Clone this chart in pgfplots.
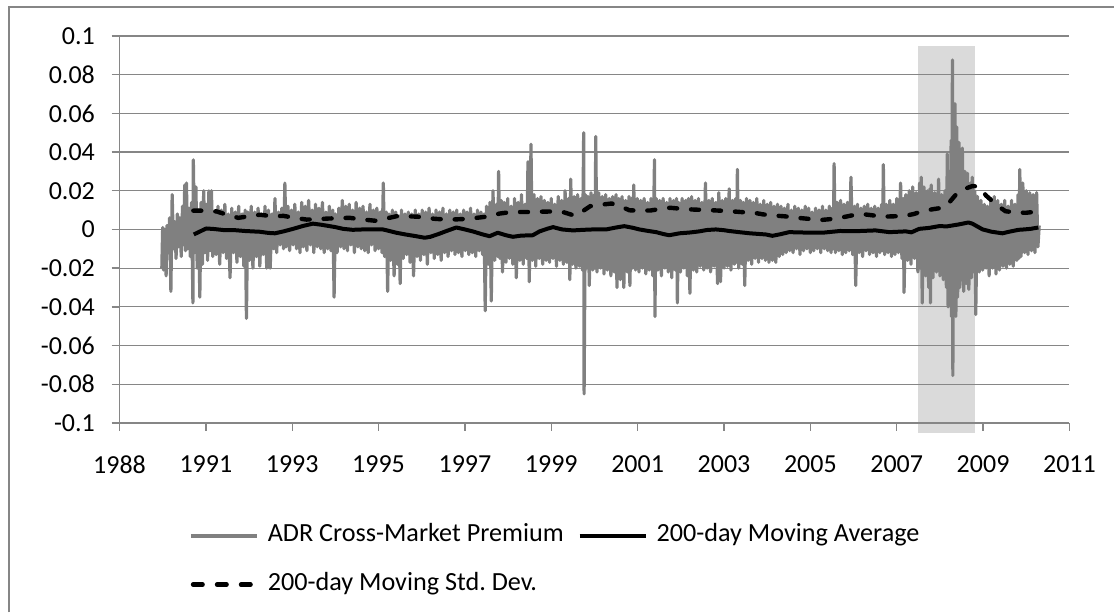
\documentclass[border=0pt]{standalone}
\usepackage{fontspec}
\setmainfont{Carlito}
\usepackage{pgfplots}
\pgfplotsset{compat=1.18}
\definecolor{gridgray}{HTML}{868686}
\definecolor{seriesgray}{HTML}{808080}
\begin{document}
\begin{tikzpicture}
\path (0,0) rectangle (557.5pt,-306.5pt);
\draw[gridgray, line width=1pt] (4.5pt,-306.5pt) -- (4.5pt,-3.5pt) -- (557.5pt,-3.5pt);
\begin{axis}[
  set layers,
  scale only axis, width=475.4pt, height=193.65pt,
  at={(59.8pt,-211.65pt)}, anchor=south west,
  xmin=1989, xmax=2011, ymin=-0.1, ymax=0.1,
  axis x line*=bottom, axis y line*=left,
  axis line style={gridgray, line width=0.7pt, -},
  xtick={1989,1991,1993,1995,1997,1999,2001,2003,2005,2007,2009,2011},
  xticklabels={1988,1991,1993,1995,1997,1999,2001,2003,2005,2007,2009,2011},
  ytick={-0.1,-0.08,-0.06,-0.04,-0.02,0,0.02,0.04,0.06,0.08,0.1},
  yticklabels={-0.1,-0.08,-0.06,-0.04,-0.02,0,0.02,0.04,0.06,0.08,0.1},
  tick align=outside, major tick length=4pt,
  tick style={gridgray, line width=0.7pt},
  ymajorgrids, grid style={gridgray, line width=0.6pt},
  ticklabel style={font=\fontsize{13}{15}\selectfont},
  yticklabel style={xshift=-4.8pt},
  xticklabel style={yshift=-8.8pt},
  clip=false,
  legend columns=2,
  legend cell align=left,
  legend image code/.code={\draw[#1] (0pt,0pt) -- (33pt,0pt);},
  legend style={at={(0.073,-0.25)}, anchor=north west, draw=none, fill=none,
    font=\fontsize{13.1}{15}\selectfont, inner sep=0pt, outer sep=0pt,
    nodes={inner sep=2pt, text height=9pt, text depth=3pt},
    row sep=8.5pt,
    /tikz/every odd column/.append style={column sep=2.5pt},
    /tikz/every even column/.append style={column sep=5pt}},
]
\addplot[draw=none, fill=gray!29, on layer=axis background, forget plot] coordinates {(2007.49,-0.105) (2008.82,-0.105) (2008.82,0.095) (2007.49,0.095)} -- cycle;
\addplot[seriesgray, line width=1.6pt, line join=round,
  legend image code/.code={\draw[seriesgray, line width=2pt] (0pt,0pt) -- (33pt,0pt);}] coordinates {
(1989.98,-0.020)(1990.00,0.001)(1990.02,-0.021)(1990.05,0.000)(1990.08,-0.024)(1990.10,0.002)(1990.13,-0.012)(1990.16,0.006)(1990.19,-0.032)(1990.22,0.018)(1990.25,-0.010)(1990.28,0.004)(1990.31,-0.015)(1990.34,0.008)(1990.37,-0.009)(1990.40,0.006)(1990.43,-0.014)(1990.46,0.012)(1990.49,-0.008)(1990.51,0.023)(1990.53,-0.011)(1990.55,0.024)(1990.58,-0.010)(1990.61,0.011)(1990.64,-0.014)(1990.67,0.014)(1990.70,-0.038)(1990.71,0.036)(1990.74,-0.012)(1990.77,0.022)(1990.80,-0.020)(1990.83,0.010)(1990.86,-0.035)(1990.89,0.014)(1990.92,-0.018)(1990.95,0.020)(1990.98,-0.012)(1991.01,0.013)(1991.04,-0.016)(1991.07,0.020)(1991.10,-0.011)(1991.13,0.020)(1991.16,-0.014)(1991.20,0.009)(1991.24,-0.013)(1991.28,0.012)(1991.32,-0.018)(1991.36,0.010)(1991.40,-0.012)(1991.44,0.013)(1991.48,-0.015)(1991.52,0.008)(1991.56,-0.025)(1991.60,0.011)(1991.64,-0.012)(1991.68,0.009)(1991.72,-0.017)(1991.76,0.012)(1991.80,-0.014)(1991.84,0.008)(1991.88,-0.019)(1991.91,0.010)(1991.94,-0.046)(1991.97,0.009)
(1992.01,-0.016)(1992.05,0.012)(1992.09,-0.020)(1992.13,0.009)(1992.17,-0.014)(1992.21,0.011)(1992.25,-0.019)(1992.29,0.008)(1992.33,-0.013)(1992.37,0.012)(1992.41,-0.020)(1992.45,0.010)(1992.49,-0.020)(1992.53,0.008)(1992.57,-0.010)(1992.60,0.016)(1992.64,-0.012)(1992.68,0.009)(1992.72,-0.008)(1992.76,0.011)(1992.80,-0.010)(1992.83,0.024)(1992.86,-0.009)(1992.90,0.012)(1992.94,-0.011)(1992.98,0.010)(1993.02,-0.008)(1993.06,0.013)(1993.10,-0.010)(1993.14,0.009)(1993.18,-0.012)(1993.22,0.014)(1993.26,-0.009)(1993.30,0.012)(1993.34,-0.011)(1993.38,0.015)(1993.42,-0.008)(1993.46,0.010)(1993.50,-0.012)(1993.54,0.013)(1993.58,-0.009)(1993.62,0.011)(1993.66,-0.010)(1993.70,0.014)(1993.74,-0.012)(1993.78,0.009)(1993.82,-0.010)(1993.86,0.012)(1993.90,-0.011)(1993.94,0.010)(1993.97,-0.035)
(1994.00,0.008)(1994.04,-0.012)(1994.08,0.011)(1994.12,-0.009)(1994.16,0.015)(1994.20,-0.010)(1994.24,0.012)(1994.28,-0.011)(1994.32,0.013)(1994.36,-0.008)(1994.40,0.010)(1994.44,-0.012)(1994.48,0.014)(1994.52,-0.009)(1994.56,0.011)(1994.60,-0.010)(1994.64,0.012)(1994.68,-0.011)(1994.72,0.009)(1994.76,-0.012)(1994.80,0.013)(1994.84,-0.008)(1994.88,0.010)(1994.92,-0.011)(1994.96,0.011)(1995.00,-0.010)(1995.04,0.009)(1995.08,-0.012)(1995.11,0.024)(1995.14,-0.014)(1995.18,0.009)(1995.21,-0.032)(1995.24,0.008)(1995.28,-0.016)(1995.32,0.010)(1995.36,-0.024)(1995.40,0.009)(1995.44,-0.018)(1995.47,0.007)(1995.50,-0.028)(1995.53,0.010)(1995.57,-0.015)(1995.61,0.008)(1995.65,-0.013)(1995.69,0.009)(1995.73,-0.017)(1995.77,0.008)(1995.81,-0.024)(1995.85,0.010)(1995.89,-0.014)(1995.93,0.008)(1995.97,-0.016)
(1996.01,0.010)(1996.05,-0.013)(1996.09,0.009)(1996.13,-0.018)(1996.17,0.011)(1996.21,-0.012)(1996.25,0.008)(1996.29,-0.015)(1996.33,0.010)(1996.37,-0.013)(1996.41,0.009)(1996.45,-0.016)(1996.49,0.011)(1996.53,-0.012)(1996.57,0.008)(1996.61,-0.014)(1996.65,0.010)(1996.69,-0.011)(1996.73,0.009)(1996.77,-0.013)(1996.81,0.010)(1996.85,-0.012)(1996.89,0.008)(1996.93,-0.014)(1996.97,0.010)(1997.01,-0.011)(1997.05,0.009)(1997.09,-0.013)(1997.13,0.011)(1997.17,-0.012)(1997.21,0.008)(1997.25,-0.014)(1997.29,0.010)(1997.33,-0.011)(1997.37,0.009)(1997.41,-0.013)(1997.44,0.008)(1997.47,-0.042)(1997.50,0.012)(1997.54,-0.018)(1997.58,0.014)(1997.61,-0.037)(1997.65,0.020)(1997.69,-0.016)(1997.73,0.013)(1997.76,-0.014)(1997.78,0.030)(1997.81,-0.015)(1997.84,0.015)(1997.87,-0.022)(1997.91,0.014)(1997.95,-0.017)(1997.99,0.016)
(1998.03,-0.015)(1998.07,0.012)(1998.11,-0.018)(1998.15,0.016)(1998.19,-0.025)(1998.23,0.014)(1998.27,-0.016)(1998.31,0.018)(1998.35,-0.018)(1998.39,0.013)(1998.43,-0.015)(1998.46,0.035)(1998.49,-0.027)(1998.53,0.044)(1998.56,-0.016)(1998.60,0.018)(1998.64,-0.019)(1998.68,0.016)(1998.72,-0.015)(1998.76,0.017)(1998.80,-0.018)(1998.84,0.015)(1998.88,-0.016)(1998.92,0.014)(1998.96,-0.017)(1999.00,0.016)(1999.04,-0.015)(1999.08,0.013)(1999.12,-0.019)(1999.16,0.017)(1999.20,-0.016)(1999.24,0.015)(1999.28,-0.018)(1999.32,0.020)(1999.36,-0.017)(1999.40,0.016)(1999.43,-0.026)(1999.45,0.026)(1999.49,-0.018)(1999.53,0.017)(1999.57,-0.020)(1999.61,0.018)(1999.65,-0.019)(1999.69,0.016)(1999.72,-0.021)(1999.75,0.050)(1999.76,-0.085)(1999.79,0.018)(1999.82,-0.020)(1999.85,0.017)(1999.88,-0.029)(1999.92,0.019)(1999.96,-0.021)
(2000.00,0.018)(2000.01,-0.020)(2000.03,0.048)(2000.06,-0.022)(2000.10,0.019)(2000.14,-0.020)(2000.18,0.017)(2000.22,-0.023)(2000.26,0.018)(2000.30,-0.021)(2000.34,0.016)(2000.38,-0.024)(2000.42,0.017)(2000.46,-0.022)(2000.50,0.018)(2000.52,-0.030)(2000.56,0.016)(2000.60,-0.026)(2000.64,0.017)(2000.68,-0.030)(2000.72,0.015)(2000.76,-0.022)(2000.80,0.017)(2000.82,-0.029)(2000.86,0.016)(2000.88,-0.020)(2000.91,0.023)(2000.95,-0.021)(2000.99,0.016)(2001.03,-0.022)(2001.07,0.015)(2001.11,-0.020)(2001.15,0.016)(2001.19,-0.023)(2001.23,0.014)(2001.27,-0.021)(2001.31,0.016)(2001.35,-0.024)(2001.39,0.036)(2001.40,-0.045)(2001.43,0.016)(2001.47,-0.021)(2001.51,0.015)(2001.55,-0.024)(2001.59,0.016)(2001.63,-0.020)(2001.67,0.014)(2001.71,-0.022)(2001.75,0.016)(2001.79,-0.025)(2001.83,0.015)(2001.87,-0.021)(2001.90,0.016)(2001.92,-0.038)(2001.95,0.014)(2001.99,-0.022)
(2002.03,0.016)(2002.07,-0.020)(2002.11,0.015)(2002.15,-0.024)(2002.18,0.016)(2002.21,-0.033)(2002.25,0.017)(2002.29,-0.021)(2002.33,0.015)(2002.37,-0.022)(2002.41,0.016)(2002.45,-0.019)(2002.49,0.014)(2002.53,-0.021)(2002.57,0.024)(2002.61,-0.020)(2002.65,0.015)(2002.69,-0.022)(2002.73,0.016)(2002.77,-0.019)(2002.81,0.014)(2002.85,-0.028)(2002.88,0.019)(2002.92,-0.027)(2002.96,0.015)(2003.00,-0.020)(2003.04,0.016)(2003.08,-0.019)(2003.12,0.021)(2003.16,-0.021)(2003.20,0.015)(2003.24,-0.018)(2003.27,0.016)(2003.29,-0.017)(2003.31,0.031)(2003.34,-0.020)(2003.38,0.015)(2003.42,-0.018)(2003.45,0.014)(2003.48,-0.029)(2003.52,0.016)(2003.56,-0.016)(2003.60,0.015)(2003.64,-0.018)(2003.68,0.014)(2003.72,-0.015)(2003.76,0.016)(2003.80,-0.017)(2003.84,0.013)(2003.88,-0.015)(2003.92,0.015)(2003.96,-0.016)
(2004.00,0.013)(2004.04,-0.017)(2004.08,0.014)(2004.12,-0.016)(2004.16,0.012)(2004.20,-0.017)(2004.24,0.013)(2004.28,-0.014)(2004.32,0.012)(2004.36,-0.013)(2004.40,0.011)(2004.44,-0.012)(2004.48,0.013)(2004.52,-0.011)(2004.56,0.010)(2004.60,-0.012)(2004.64,0.012)(2004.68,-0.010)(2004.72,0.011)(2004.76,-0.013)(2004.80,0.010)(2004.84,-0.011)(2004.88,0.012)(2004.92,-0.010)(2004.96,0.011)(2005.00,-0.012)(2005.04,0.009)(2005.08,-0.011)(2005.12,0.011)(2005.16,-0.010)(2005.20,0.010)(2005.24,-0.012)(2005.28,0.012)(2005.32,-0.010)(2005.36,0.010)(2005.40,-0.011)(2005.44,0.012)(2005.48,-0.012)(2005.51,0.011)(2005.53,-0.010)(2005.55,0.034)(2005.58,-0.012)(2005.62,0.014)(2005.66,-0.011)(2005.70,0.015)(2005.74,-0.013)(2005.78,0.013)(2005.82,-0.012)(2005.86,0.014)(2005.90,-0.011)(2005.94,0.027)(2005.98,-0.013)
(2006.02,0.012)(2006.05,-0.029)(2006.09,0.013)(2006.13,-0.012)(2006.17,0.011)(2006.21,-0.014)(2006.25,0.012)(2006.29,-0.011)(2006.33,0.013)(2006.37,-0.013)(2006.41,0.011)(2006.45,-0.012)(2006.49,0.012)(2006.53,-0.014)(2006.57,0.011)(2006.61,-0.012)(2006.65,0.013)(2006.67,-0.011)(2006.69,0.0335)(2006.72,-0.013)(2006.76,0.013)(2006.80,-0.012)(2006.84,0.015)(2006.88,-0.014)(2006.92,0.013)(2006.96,-0.013)(2007.00,0.016)(2007.04,-0.012)(2007.09,0.024)(2007.12,-0.015)(2007.15,0.016)(2007.17,-0.0326)(2007.21,0.018)(2007.25,-0.016)(2007.29,0.020)(2007.33,-0.018)(2007.37,0.022)(2007.41,-0.015)(2007.45,0.019)(2007.49,-0.022)(2007.53,0.024)(2007.55,-0.020)(2007.57,0.027)(2007.59,-0.038)(2007.63,0.022)(2007.67,-0.024)(2007.71,0.020)(2007.74,-0.030)(2007.77,0.021)(2007.78,-0.038)(2007.80,0.023)(2007.84,-0.025)(2007.88,0.019)(2007.92,-0.022)(2007.97,0.026)
(2008.00,-0.024)(2008.04,0.018)(2008.08,-0.026)(2008.12,0.020)(2008.15,-0.030)(2008.17,0.039)(2008.19,-0.040)(2008.22,0.030)(2008.24,-0.035)(2008.26,0.046)(2008.27,-0.045)(2008.29,0.0876)(2008.30,-0.0755)(2008.32,0.055)(2008.34,-0.040)(2008.35,0.065)(2008.37,-0.045)(2008.39,0.053)(2008.41,-0.035)(2008.44,0.045)(2008.46,-0.030)(2008.48,0.040)(2008.50,-0.026)(2008.52,0.042)(2008.55,-0.032)(2008.58,0.030)(2008.61,-0.028)(2008.64,0.029)(2008.67,-0.031)(2008.71,0.024)(2008.73,-0.025)(2008.75,0.027)(2008.79,-0.022)(2008.81,0.020)(2008.83,-0.044)(2008.87,0.017)(2008.91,-0.022)(2008.95,0.015)(2008.99,-0.021)(2009.03,0.013)(2009.07,-0.020)(2009.10,0.012)(2009.14,-0.024)(2009.18,0.016)(2009.22,-0.020)(2009.26,0.017)(2009.30,-0.023)(2009.34,0.015)(2009.38,-0.021)(2009.42,0.013)(2009.46,-0.019)(2009.50,0.015)(2009.54,-0.020)(2009.58,0.012)(2009.62,-0.018)(2009.66,0.015)(2009.70,-0.019)(2009.74,0.013)(2009.78,-0.016)(2009.81,0.018)(2009.83,-0.015)(2009.85,0.031)(2009.88,-0.014)(2009.92,0.024)(2009.96,-0.012)
(2010.00,0.020)(2010.04,-0.013)(2010.08,0.019)(2010.12,-0.011)(2010.16,0.018)(2010.20,-0.012)(2010.24,0.019)(2010.27,-0.009)(2010.30,0.002)
};
\addlegendentry{ADR Cross-Market Premium}
\addplot[black, line width=2pt, line join=round] coordinates {
(1990.72,-0.0026)(1990.85,-0.0012)(1991.01,0.0005)(1991.2,0.0002)(1991.4,-0.0003)(1991.63,-0.0003)(1991.9,-0.0008)(1992.25,-0.0012)(1992.45,-0.0018)(1992.6,-0.002)(1992.8,-0.001)(1993.02,0.0003)(1993.25,0.0018)(1993.48,0.003)(1993.65,0.0025)(1993.79,0.002)(1994.0,0.0012)(1994.18,0.0003)(1994.4,-0.0002)(1994.64,0)(1994.9,0.0)(1995.1,0)(1995.25,-0.0008)(1995.41,-0.0017)(1995.6,-0.0025)(1995.87,-0.0035)(1996.07,-0.0043)(1996.2,-0.0038)(1996.41,-0.0022)(1996.55,-0.001)(1996.8,0.001)(1997.0,0.0)(1997.18,-0.001)(1997.4,-0.0025)(1997.57,-0.0035)(1997.76,-0.0017)(1997.95,-0.003)(1998.11,-0.0038)(1998.3,-0.0032)(1998.57,-0.003)(1998.73,-0.001)(1998.9,0.0003)(1999.04,0.0012)(1999.25,0.0)(1999.5,-0.0005)(1999.75,-0.0002)(1999.96,0.0)(2000.27,0.0)(2000.5,0.001)(2000.69,0.0017)(2000.9,0.0008)(2001.04,0.0)(2001.25,-0.0008)(2001.43,-0.0014)(2001.6,-0.0024)(2001.73,-0.003)(2001.97,-0.002)(2002.2,-0.0016)(2002.43,-0.001)(2002.6,-0.0003)(2002.81,0.0)(2003.0,-0.0004)(2003.12,-0.0008)(2003.35,-0.0014)(2003.6,-0.002)(2003.97,-0.0026)(2004.12,-0.0033)(2004.3,-0.0025)(2004.51,-0.0014)(2004.86,-0.0016)(2005.28,-0.0017)(2005.69,-0.0008)(2006.05,-0.0009)(2006.51,-0.0005)(2006.83,-0.0014)(2007.21,-0.001)(2007.34,-0.0015)(2007.52,0.0003)(2007.75,0.0008)(2007.98,0.0017)(2008.17,0.0016)(2008.44,0.0026)(2008.66,0.0036)(2008.75,0.003)(2008.99,0.0)(2009.2,-0.0012)(2009.45,-0.002)(2009.6,-0.0012)(2009.82,-0.0002)(2009.95,0.0)(2010.1,0.0003)(2010.28,0.001)
};
\addlegendentry{200-day Moving Average}
\addplot[black, line width=2.2pt, line cap=round, dash pattern=on 4pt off 7pt,
  legend image code/.code={\draw[black, line width=2.2pt, line cap=round, dash pattern=on 4.8pt off 7.2pt] (1.1pt,0pt) -- (32pt,0pt);}] coordinates {
(1990.71,0.0097)(1991.0,0.0097)(1991.25,0.0093)(1991.5,0.0075)(1991.75,0.006)(1992.0,0.0068)(1992.25,0.0076)(1992.55,0.0068)(1992.8,0.007)(1993.05,0.006)(1993.33,0.0051)(1993.6,0.0053)(1993.8,0.0056)(1994.05,0.0058)(1994.33,0.006)(1994.6,0.0052)(1994.92,0.0045)(1995.15,0.0055)(1995.41,0.0068)(1995.65,0.0068)(1995.9,0.0066)(1996.1,0.006)(1996.3,0.0055)(1996.5,0.0052)(1996.8,0.0052)(1997.07,0.0055)(1997.35,0.0062)(1997.57,0.0068)(1997.8,0.0082)(1998.07,0.0090)(1998.3,0.0090)(1998.57,0.009)(1998.8,0.0092)(1999.07,0.0093)(1999.3,0.0088)(1999.53,0.0072)(1999.7,0.009)(1999.9,0.012)(2000.15,0.0128)(2000.4,0.0134)(2000.6,0.012)(2000.81,0.0099)(2001.05,0.0097)(2001.3,0.0098)(2001.5,0.0105)(2001.75,0.0112)(2002.0,0.0107)(2002.27,0.0103)(2002.5,0.0101)(2002.74,0.0099)(2003.0,0.0096)(2003.21,0.0093)(2003.45,0.0089)(2003.7,0.0086)(2003.9,0.0078)(2004.12,0.0072)(2004.4,0.0068)(2004.7,0.006)(2004.95,0.0055)(2005.2,0.0048)(2005.45,0.0053)(2005.69,0.006)(2005.95,0.0072)(2006.18,0.008)(2006.4,0.0074)(2006.68,0.0066)(2006.95,0.0068)(2007.17,0.0069)(2007.4,0.008)(2007.6,0.0095)(2007.85,0.0105)(2008.06,0.0112)(2008.2,0.0135)(2008.37,0.0180)(2008.58,0.0210)(2008.75,0.0224)(2008.9,0.0222)(2009.07,0.0175)(2009.22,0.0145)(2009.36,0.0119)(2009.52,0.0094)(2009.75,0.0088)(2009.99,0.0086)(2010.15,0.0090)(2010.28,0.0092)
};
\addlegendentry{200-day Moving Std.\ Dev.}
\end{axis}
\end{tikzpicture}
\end{document}
